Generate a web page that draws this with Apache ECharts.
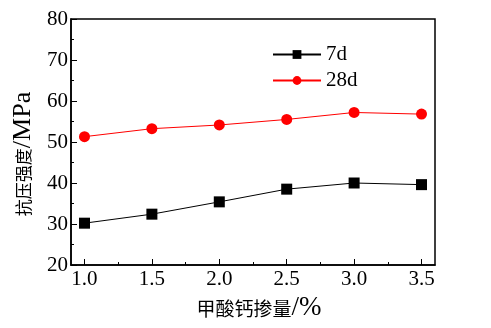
<!DOCTYPE html>
<html><head><meta charset="utf-8">
<script src="https://cdn.jsdelivr.net/npm/echarts@6/dist/echarts.min.js"></script>
<style>html,body{margin:0;padding:0;background:#fff}#c{width:491px;height:328px}</style>
</head><body><div id="c"></div>
<script>
const xValues = [1.0, 1.5, 2.0, 2.5, 3.0, 3.5];
const s7d = [30.2, 32.4, 35.4, 38.5, 40.0, 39.6];
const s28d = [51.3, 53.25, 54.15, 55.5, 57.2, 56.8];
const xMajorTicks = [1.0, 1.5, 2.0, 2.5, 3.0, 3.5];
const xMinorTicks = [1.25, 1.75, 2.25, 2.75, 3.25];
const seriesNames = ['7d', '28d'];
const xNameCJK = '甲酸钙掺量', xNameLatin = '/%';
const yNameCJK = '抗压强度', yNameLatin = '/MPa';

const serif = 'Liberation Serif, Times New Roman, serif';
const cjk = 'Noto Sans CJK SC, sans-serif';
const xRich = {
  c: {fontFamily: cjk, fontSize: 19, color: '#000'},
  l: {fontFamily: serif, fontSize: 27, color: '#000'},
  s: {width: 12}
};
const yRich = {
  c: {fontFamily: cjk, fontSize: 17, color: '#000'},
  l: {fontFamily: serif, fontSize: 26, color: '#000'},
  s: {width: 24}
};
const chart = echarts.init(document.getElementById('c'));
chart.setOption({
  animation: false,
  backgroundColor: '#fff',
  grid: {left: 71, top: 19, right: 56, bottom: 63, show: true, borderColor: '#000', borderWidth: 1.5,
         containLabel: false, outerBoundsMode: 'none'},
  legend: {
    orient: 'vertical', left: 267, top: 39, itemWidth: 48, itemHeight: 11, itemGap: 5,
    textStyle: {fontFamily: serif, fontSize: 21, color: '#000', lineHeight: 21},
    data: seriesNames
  },
  xAxis: [{
    type: 'value', min: 0.9, max: 3.6,
    name: '{s|}{c|' + xNameCJK + '}{l|' + xNameLatin + '}', nameLocation: 'middle', nameGap: 23,
    nameTextStyle: {rich: xRich},
    axisLine: {lineStyle: {color: '#000', width: 1.5}},
    axisTick: {inside: true, length: 6, customValues: xMajorTicks, lineStyle: {color: '#000', width: 1}},
    axisLabel: {customValues: xMajorTicks, formatter: v => v.toFixed(1), fontFamily: serif, fontSize: 21, color: '#000', margin: 4},
    splitLine: {show: false}
  }, {
    type: 'value', min: 0.9, max: 3.6, position: 'bottom',
    axisLine: {show: false},
    axisTick: {inside: true, length: 3, customValues: xMinorTicks, lineStyle: {color: '#000', width: 1}},
    axisLabel: {show: false},
    splitLine: {show: false}
  }],
  yAxis: {
    type: 'value', min: 20, max: 80, interval: 10,
    name: '{c|' + yNameCJK + '}{l|' + yNameLatin + '}{s|}', nameLocation: 'middle', nameGap: 25, nameRotate: 90,
    nameTextStyle: {rich: yRich},
    axisLine: {show: true, lineStyle: {color: '#000', width: 1.5}},
    axisTick: {inside: true, length: 6, lineStyle: {color: '#000', width: 1}},
    minorTick: {show: true, splitNumber: 2, length: 3, lineStyle: {color: '#000', width: 1}},
    axisLabel: {fontFamily: serif, fontSize: 21, color: '#000', margin: 3},
    splitLine: {show: false}
  },
  series: [{
    name: seriesNames[0], type: 'line', xAxisIndex: 0,
    data: xValues.map((x, i) => [x, s7d[i]]),
    symbol: 'rect', symbolSize: 11,
    itemStyle: {color: '#000'}, lineStyle: {color: '#000', width: 1}
  }, {
    name: seriesNames[1], type: 'line', xAxisIndex: 0,
    data: xValues.map((x, i) => [x, s28d[i]]),
    symbol: 'circle', symbolSize: 11,
    itemStyle: {color: '#ff0000'}, lineStyle: {color: '#ff0000', width: 1}
  }]
});
</script></body></html>
